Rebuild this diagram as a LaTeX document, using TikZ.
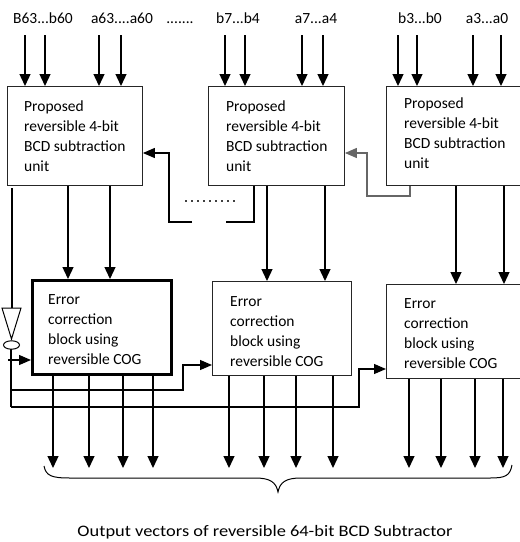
\documentclass[tikz,border=0pt]{standalone}
\usepackage{fontspec}
\usepackage{graphicx}
\setmainfont{Carlito}
\usetikzlibrary{arrows.meta}
\begin{document}
\begin{tikzpicture}[x=1pt,y=-1pt,
  box/.style={draw=black!85, line width=0.9pt, anchor=north west, inner sep=0pt},
  lbl/.style={font=\fontsize{15.5}{20}\selectfont, inner sep=0pt, anchor=base},
  txt/.style={font=\fontsize{15.5}{20}\selectfont, align=left, anchor=west, inner sep=0pt},
  arr/.style={line width=1.3pt, -{Triangle[length=12pt,width=11pt]}},
  sarr/.style={line width=1.2pt, -{Triangle[length=12pt,width=10pt]}},
  wire/.style={line width=1.2pt},
  greywire/.style={line width=1.2pt, draw=black!60},
]
\useasboundingbox (0,0) rectangle (520,542);
\clip (0,0) rectangle (520,542);

% top labels
\node[lbl] (l1) at (43,23) {B63...b60};
\node[lbl] (l2) at (122,23) {a63....a60};
\node[lbl] (l0) at (180,23) {.......};
\node[lbl] (l3) at (238,23) {b7...b4};
\node[lbl] (l4) at (316,23) {a7...a4};
\node[lbl] (l5) at (420,23) {b3...b0};
\node[lbl] (l6) at (487,23) {a3...a0};

% subtraction units
\node[box, minimum width=135pt, minimum height=99pt] (p1) at (7,86) {};
\node[box, minimum width=136pt, minimum height=99pt] (p2) at (208,86) {};
\node[box, minimum width=145pt, minimum height=99pt] (p3) at (386,86) {};
\node[txt] (t1) at (24,136) {Proposed\\reversible 4-bit\\BCD subtraction\\unit};
\node[txt] (t2) at (226,136) {Proposed\\reversible 4-bit\\BCD subtraction\\unit};
\node[txt] (t3) at (404,133) {Proposed\\reversible 4-bit\\BCD subtraction\\unit};

% error correction blocks
\node[box, line width=2.6pt, draw=black, minimum width=139pt, minimum height=94pt] (e1) at (31,279) {};
\node[box, minimum width=139pt, minimum height=94pt] (e2) at (212,281) {};
\node[box, minimum width=145pt, minimum height=94pt] (e3) at (386,284) {};
\node[txt] (te1) at (48,330) {Error\\correction\\block using\\reversible COG};
\node[txt] (te2) at (230,332) {Error\\correction\\block using\\reversible COG};
\node[txt] (te3) at (404,334) {Error\\correction\\block using\\reversible COG};

% input arrows
\foreach \x/\b in {25/p1,45/p1,99/p1,121/p1,225/p2,245/p2,302/p2,323/p2,398/p3,417/p3,473/p3,501/p3}{
  \coordinate (in\x) at (\x,35);
  \draw[arr] (in\x) -- (in\x |- \b.north);
}

% unit -> correction arrows
\foreach \x/\a/\b in {68/p1/e1,110/p1/e1,267/p2/e2,325/p2/e2,456/p3/e3,504/p3/e3}{
  \coordinate (m\x) at (\x,200);
  \draw[arr] (m\x |- \a.south) -- (m\x |- \b.north);
}

% output arrows
\foreach \x/\b in {53/e1,89/e1,123/e1,153/e1,229/e2,264/e2,296/e2,333/e2,409/e3,441/e3,475/e3,503/e3}{
  \coordinate (o\x) at (\x,468);
  \draw[arr] (o\x |- \b.south) -- (o\x);
}

% borrow feedback from unit 2 to unit 1
\coordinate (g1) at (254,222);
\coordinate (g2) at (226,222);
\coordinate (g3) at (192,222);
\coordinate (g4) at (169,222);
\coordinate (h1) at (169,153);
\draw[wire] (g1 |- p2.south) -- (g1) -- (g2);
\draw[sarr] (g3) -- (g4) -- (h1) -- (h1 -| p1.east);
\draw[dash pattern=on 2.2pt off 3.8pt, line width=2.2pt, draw=black!75] (185,201) -- (235,201);

% borrow feedback from unit 3 to unit 2
\coordinate (k1) at (410,196);
\coordinate (k2) at (367,196);
\coordinate (k3) at (367,153);
\draw[greywire, -{Triangle[length=12pt,width=10pt]}] (k1 |- p3.south) -- (k1) -- (k2) -- (k3) -- (k3 -| p2.east);

% inverter and control lines
\coordinate (v0) at (12,188);
\coordinate (v1) at (12,308);
\draw[wire] (v0) -- (v1);
\draw[line width=1pt] (2,308) -- (21,308) -- (11.5,339) -- cycle;
\draw[line width=1pt] (11.5,345) ellipse (8pt and 4.2pt);
\coordinate (w0) at (11,349);
\coordinate (w1) at (11,407);
\draw[wire] (w0) -- (w1);
\coordinate (c1) at (8,360);
\draw[sarr] (c1) -- (c1 -| e1.west);
\coordinate (c2a) at (11,390);
\coordinate (c2b) at (183,390);
\coordinate (c2c) at (183,365);
\draw[sarr] (c2a) -- (c2b) -- (c2c) -- (c2c -| e2.west);
\coordinate (c3b) at (359,407);
\coordinate (c3c) at (359,369);
\draw[sarr] (w1) -- (c3b) -- (c3c) -- (c3c -| e3.west);

% brace
\draw[line width=1pt] (44,466) .. controls (46,476) and (52,478) .. (70,478) -- (255,478)
  .. controls (270,478) and (276,482) .. (278,492)
  .. controls (280,482) and (286,478) .. (301,478) -- (490,478)
  .. controls (505,478) and (510,476) .. (512,465);

% caption
\node[inner sep=0pt, anchor=base, font=\fontsize{16}{20}\selectfont] (cap) at (265,536) {\scalebox{1.15}[1]{Output vectors of reversible 64-bit BCD Subtractor}};
\end{tikzpicture}
\end{document}
